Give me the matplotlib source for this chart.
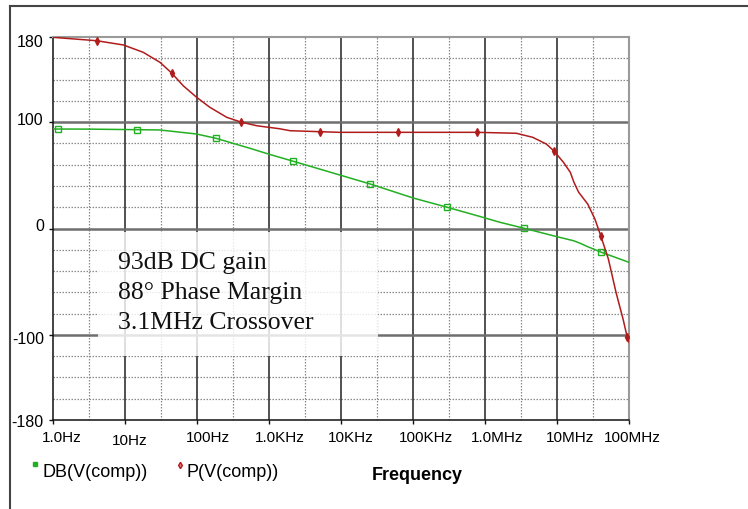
import numpy as np
import matplotlib
matplotlib.use("Agg")
import matplotlib.pyplot as plt
from matplotlib.lines import Line2D
from matplotlib.patches import Rectangle
from matplotlib.transforms import ScaledTranslation

# ---------------- data ----------------
gain_freq = [1.0, 1.18, 3.16, 14.5, 30.6, 80, 99, 183, 543, 980, 2.17e3, 9.6e3,
             2.5e4, 1e5, 2.97e5, 8.3e5, 1.6e6, 3.5e6, 1e7, 1.7e7, 2.1e7, 2.67e7,
             4.15e7, 1e8]
gain_db = [93.5, 93.5, 93.4, 92.9, 92.6, 89.5, 88.8, 84.8, 75.4, 70.0, 63.2, 50.3,
           42.0, 28.7, 20.0, 11.5, 5.9, 0.2, -7.7, -11.5, -13.9, -17.1,
           -22.4, -31.8]
gain_markers = [1, 3, 7, 10, 12, 14, 17, 22]

phase_freq = [1.0, 4.05, 9.5, 17.9, 30.6, 44.5, 64.3, 98.9, 151, 259, 405, 675, 1.39e3,
              1.97e3, 5.1e3, 9.6e3, 6.19e4, 7.74e5, 2.73e6, 4.6e6, 7.1e6, 9.0e6,
              1.23e7, 1.53e7, 1.72e7, 2.0e7, 2.67e7, 3.36e7, 4.05e7, 5.17e7, 6.6e7,
              8.26e7, 9.46e7, 1e8]
phase_deg = [179.7, 176.5, 172.5, 165.6, 156.2, 146.1, 134.2, 123.3, 113.9, 104.5, 100.1, 96.6, 93.8,
             91.9, 91.0, 90.4, 90.4, 90.4, 89.5, 85.7, 79.4, 73.1,
             62.2, 52.8, 43.4, 34.0, 23.0, 8.9, -6.8, -28.7, -60.0,
             -85.0, -102.3, -107.0]
phase_markers = [1, 5, 10, 14, 16, 17, 21, 28, 32]

xtick_vals = [1, 10, 100, 1e3, 1e4, 1e5, 1e6, 1e7, 1e8]
xtick_labels = ["1.0Hz", "10Hz", "100Hz", "1.0KHz", "10KHz", "100KHz", "1.0MHz", "10MHz", "100MHz"]
ytick_vals = [-180, -100, 0, 100, 180]
ytick_labels = ["-180", "-100", "0", "100", "180"]

annotation_lines = ["93dB DC gain", "88\u00b0 Phase Margin", "3.1MHz Crossover"]
legend_labels = ["DB(V(comp))", "P(V(comp))"]

# ---------------- figure ----------------
W, H = 748, 510
fig = plt.figure(figsize=(W / 100, H / 100), dpi=100)
plt.rcParams['font.family'] = ['Liberation Sans', 'DejaVu Sans']

L, R, T, B = 53, 629, 38, 421
ax = fig.add_axes([L / W, 1 - B / H, (R - L) / W, (B - T) / H])
ax.set_xscale('log')
ax.set_xlim(1, 1e8)
ax.set_ylim(-180, 180)

# grid
grid_minor = dict(color='#8a8a8a', lw=0.9, ls=(0, (1.2, 1.2)), zorder=1)
for k in range(8):
    ax.axvline(10 ** (k + 0.5), **grid_minor)
for v in [-160, -140, -120, -80, -60, -40, -20, 20, 40, 60, 80, 120, 140, 160]:
    ax.axhline(v, **grid_minor)
for xv in xtick_vals[1:-1]:
    ax.axvline(xv, color='#333333', lw=1.2, zorder=1.5)
for v in [-100, 0, 100]:
    ax.axhline(v, color='#6e6e6e', lw=1.8, zorder=1.5)

# annotation box (semi-transparent white)
box_x0, box_x1, box_y0, box_y1 = 98, 378, 233, 357
fig.add_artist(Rectangle((box_x0 / W, 1 - box_y1 / H), (box_x1 - box_x0) / W,
                         (box_y1 - box_y0) / H, transform=fig.transFigure,
                         facecolor='white', edgecolor='none', alpha=0.82, zorder=2))

# curves
green = '#22b022'
red = '#b01c1c'
ax.plot(gain_freq, gain_db, color=green, lw=1.1, zorder=4,
        marker='s', markevery=gain_markers, markersize=4.0,
        markerfacecolor='none', markeredgecolor=green, markeredgewidth=1.0)
ax.plot(phase_freq, phase_deg, color=red, lw=1.1, zorder=4,
        marker='d', markevery=phase_markers, markersize=3.6,
        markerfacecolor=red, markeredgecolor=red)

# spines
for s in ['top', 'right']:
    ax.spines[s].set_color('#9a9a9a')
    ax.spines[s].set_linewidth(1.5)
for s in ['left', 'bottom']:
    ax.spines[s].set_color('#111111')
    ax.spines[s].set_linewidth(1.1)

# ticks
ax.set_xticks(xtick_vals)
ax.set_xticklabels(xtick_labels, fontsize=11)
ax.xaxis.set_minor_locator(matplotlib.ticker.NullLocator())
ax.tick_params(axis='x', direction='out', length=3, width=1, pad=4.3, color='#111111')
ax.set_yticks(ytick_vals)
ax.set_yticklabels(ytick_labels, fontsize=11.5)
ax.tick_params(axis='y', direction='out', length=3, width=1, pad=3.6, color='#111111')

xdx = [9, 5, 10.5, 11, 10, 13.5, 12.5, 13, 3]
xdy = [0, -3, 0, 0, 0, 0, 0, 0, 0]
for lab, dx, dy in zip(ax.get_xticklabels(), xdx, xdy):
    lab.set_transform(lab.get_transform() + ScaledTranslation(dx / 100, dy / 100, fig.dpi_scale_trans))
ydy = [0, -2.5, 4.5, 4, -3]
for lab, dy in zip(ax.get_yticklabels(), ydy):
    lab.set_transform(lab.get_transform() + ScaledTranslation(0, dy / 100, fig.dpi_scale_trans))

# annotation text
for i, line in enumerate(annotation_lines):
    fig.text(118 / W, 1 - (269 + 30 * i) / H, line, family=['Liberation Serif', 'DejaVu Serif'],
             fontsize=18.5, ha='left', va='baseline', color='#111111', zorder=5)

# legend
fig.add_artist(Line2D([35 / W], [1 - 465 / H], transform=fig.transFigure, marker='s',
                      markersize=2.6, color=green, markerfacecolor=green, lw=0))
fig.text(43 / W, 1 - 477 / H, legend_labels[0], fontsize=13, ha='left', va='baseline')
fig.add_artist(Line2D([180 / W], [1 - 466 / H], transform=fig.transFigure, marker='d',
                      markersize=3.2, color=red, markerfacecolor='#e08080', markeredgecolor=red, lw=0))
fig.text(186 / W, 1 - 477 / H, legend_labels[1], fontsize=13, ha='left', va='baseline')
fig.text(372 / W, 1 - 480 / H, "Frequency", fontsize=13, fontweight='bold', ha='left', va='baseline')

# outer frame
fig.add_artist(Line2D([10 / W, 1.0], [1 - 7 / H, 1 - 7 / H], transform=fig.transFigure,
                      color='#444444', lw=1.5))
fig.add_artist(Line2D([10 / W, 10 / W], [1 - 7 / H, 0.0], transform=fig.transFigure,
                      color='#444444', lw=1.5))

fig.savefig("out.png", dpi=100)
